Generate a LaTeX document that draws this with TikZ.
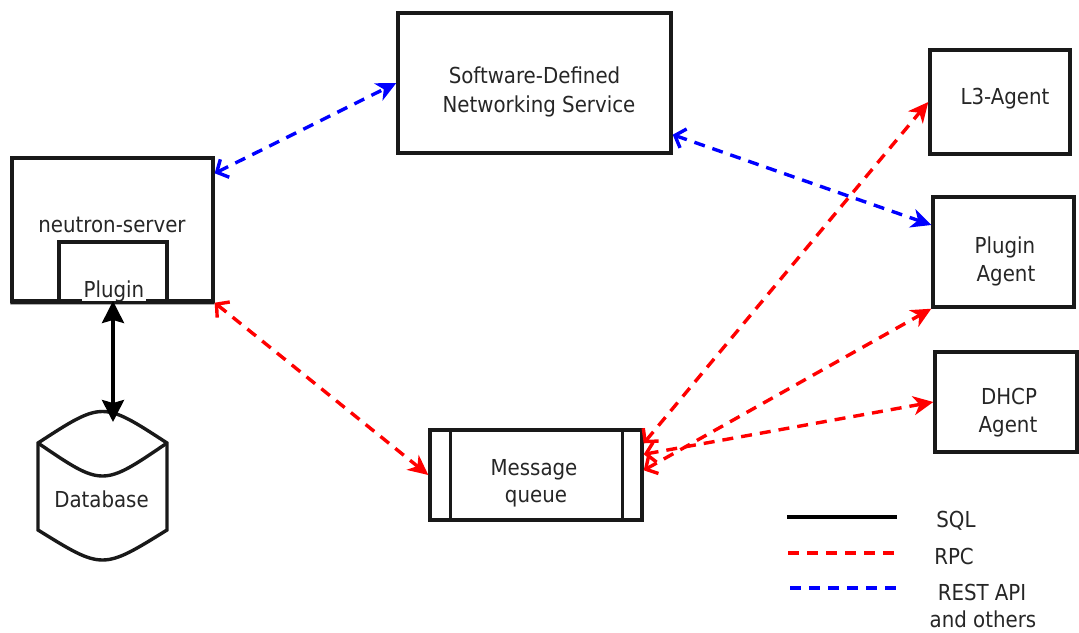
\documentclass[tikz,border=0pt]{standalone}
\usepackage{fontspec}
\setmainfont{DejaVu Sans Condensed}
\usetikzlibrary{arrows.meta,calc}
\begin{document}
\begin{tikzpicture}[x=1pt,y=-1pt,
  box/.style={draw=black!90, line width=3.4pt, inner sep=0pt},
  ghost/.style={inner sep=0pt, outer sep=0pt},
  txt/.style={text=black!85, font=\fontsize{22}{28}\selectfont, inner sep=0pt, anchor=base},
  rpc/.style={draw=red, line width=3.4pt, dash pattern=on 11pt off 8pt},
  rest/.style={draw=blue, line width=3.4pt, dash pattern=on 11pt off 8pt},
  sql/.style={draw=black, line width=3.4pt},
  ftip/.tip={Stealth[length=20pt,width=19pt,inset=6pt]},
  otip/.tip={Straight Barb[length=9pt,width=20pt]},
  btip/.tip={Stealth[length=22pt,width=22pt,inset=3pt]}
]
\useasboundingbox (0,0) rectangle (1079,632);

% neutron-server
\node[box, minimum width=201pt, minimum height=143pt] (ns) at (112.5,229.5) {};
\node[txt] (nstext) at (112,232) {neutron-server};
\node[ghost, minimum width=108pt, minimum height=59pt] (plugin) at (113,271.5) {};
\draw[line width=3.4pt, draw=black!90] (plugin.south west) |- (plugin.north east) -- (plugin.south east);
\node[txt, fill=white, inner xsep=2pt, inner ysep=1pt] (plugintext) at (114,297) {Plugin};
\draw[line width=3.4pt, draw=black!90] (plugintext.south west -| ns.south west) -- (ns.south east);

% database
\node[ghost, minimum width=129pt, minimum height=128pt] (db) at (102.5,486) {};
\draw[line width=3.4pt, draw=black!90] (38,443) .. controls (102.5,401) .. (167,443) -- (167,530) .. controls (102.5,570) .. (38,530) -- cycle;
\draw[line width=3.4pt, draw=black!90] (38,443) .. controls (102.5,487) .. (167,443);
\node[txt] (dbtext) at (101.5,507) {Database};

% SDN
\node[box, minimum width=273pt, minimum height=140pt] (sdn) at (534.5,83) {};
\node[txt] (sdn1) at (534.5,83) {Software-Defined};
\node[txt] (sdn2) at (539,112) {Networking Service};

% agents
\node[box, minimum width=140pt, minimum height=104pt] (l3) at (1000,102) {};
\node[txt] (l3text) at (1005,104) {L3-Agent};
\node[box, minimum width=141pt, minimum height=110pt] (pa) at (1003.5,252) {};
\node[txt] (pa1) at (1005,253) {Plugin};
\node[txt] (pa2) at (1006,281) {Agent};
\node[box, minimum width=142pt, minimum height=100pt] (dhcp) at (1006,402) {};
\node[txt] (dh1) at (1009,404) {DHCP};
\node[txt] (dh2) at (1008,432) {Agent};

% message queue
\node[box, minimum width=212pt, minimum height=90pt] (mq) at (536,475) {};
\draw[line width=3.4pt, draw=black!90] ([xshift=22pt]mq.north west) -- ([xshift=22pt]mq.south west);
\draw[line width=3.4pt, draw=black!90] ([xshift=-21pt]mq.north east) -- ([xshift=-21pt]mq.south east);
\node[txt] (mq1) at (534,475) {Message};
\node[txt] (mq2) at (536,502) {queue};

% connectors
\draw[line width=3.4pt, {btip}-{btip}] (plugin.south) -- (db.north -| plugin.south);
\draw[rest, {otip}-{ftip}] ([yshift=-17pt]ns.north east) -- (sdn.west);
\draw[rest, {otip}-{ftip}] ([yshift=20pt]sdn.south east) -- ([yshift=27pt]pa.west);
\draw[rpc, {otip}-{ftip}] (ns.south east) -- (mq.west);
\draw[rpc, {otip}-{ftip}] ([yshift=-15pt]mq.north east) -- (l3.west);
\draw[rpc, {otip}-{ftip}] ([yshift=-42pt]mq.north east) -- (pa.south west);
\draw[rpc, {otip}-{ftip}] ([yshift=-26pt]mq.north east) -- (dhcp.west);

% legend
\coordinate (sqlA) at (787,517); \coordinate (sqlB) at (897,517);
\coordinate (rpcA) at (788,553); \coordinate (rpcB) at (897,553);
\coordinate (restA) at (790,588); \coordinate (restB) at (897,588);
\draw[sql] (sqlA) -- (sqlB);
\draw[rpc] (rpcA) -- (rpcB);
\draw[rest] (restA) -- (restB);
\node[txt] (lsql) at (956,527) {SQL};
\node[txt] (lrpc) at (954,564) {RPC};
\node[txt] (lrest1) at (982,600) {REST API};
\node[txt] (lrest2) at (983,627) {and others};
\end{tikzpicture}
\end{document}
